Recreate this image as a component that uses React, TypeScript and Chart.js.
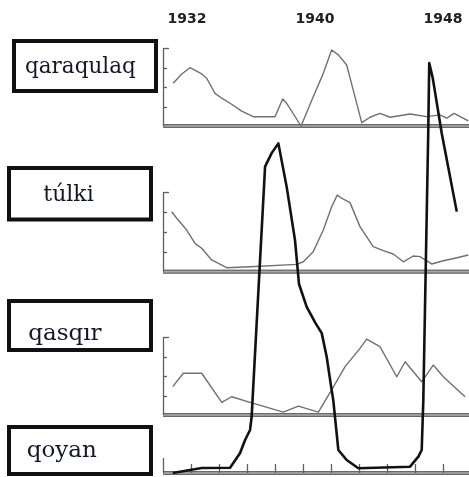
import React, { useEffect, useRef } from 'react';
import { Chart, registerables } from 'chart.js';

Chart.register(...registerables);

// ---------- data ----------
const yearLabels = [1932, 1940, 1948];
const bottomTicks = [1932.25, 1934, 1935.75, 1937.5, 1939.25, 1941, 1942.75, 1944.5, 1946.25, 1948];
const panelNames = ['qaraqulaq', 'túlki', 'qasqır', 'qoyan'];
const panelTicks = [1, 2, 3, 4];

const qaraqulaqYears = [1931.14, 1931.67, 1932.19, 1932.92, 1933.23, 1933.75, 1934.17, 1934.69, 1935.42, 1936.14, 1937.5, 1937.98, 1938.23, 1939.13, 1939.89, 1940.52, 1941.04, 1941.46, 1941.98, 1942.39, 1942.92, 1943.44, 1944.06, 1944.69, 1945.94, 1946.98, 1947.81, 1948.23, 1948.69, 1949.58];
const qaraqulaqValues = [2.2, 2.68, 3.0, 2.68, 2.46, 1.68, 1.43, 1.17, 0.77, 0.48, 0.48, 1.39, 1.17, 0, 1.51, 2.71, 3.91, 3.66, 3.14, 1.85, 0.17, 0.45, 0.65, 0.45, 0.62, 0.48, 0.57, 0.4, 0.65, 0.27];

const tulkiYears = [1931.04, 1931.36, 1931.98, 1932.5, 1932.92, 1933.54, 1934.48, 1935.94, 1938.86, 1939.27, 1939.89, 1940.52, 1941.04, 1941.39, 1941.77, 1942.19, 1942.81, 1943.64, 1944.27, 1944.89, 1945.52, 1946.14, 1946.56, 1947.29, 1948.02, 1948.75, 1949.58];
const tulkiValues = [3.02, 2.69, 2.1, 1.43, 1.18, 0.59, 0.2, 0.25, 0.37, 0.5, 1.01, 2.1, 3.27, 3.86, 3.65, 3.48, 2.27, 1.26, 1.06, 0.89, 0.5, 0.79, 0.76, 0.39, 0.55, 0.68, 0.84];

const qasqirYears = [1931.11, 1931.77, 1932.92, 1934.17, 1934.79, 1935.94, 1938.02, 1938.96, 1940.21, 1941.04, 1941.88, 1942.81, 1943.23, 1944.06, 1945.11, 1945.63, 1946.67, 1947.39, 1948.02, 1949.38];
const qasqirValues = [1.46, 2.15, 2.15, 0.65, 0.94, 0.65, 0.15, 0.46, 0.15, 1.29, 2.49, 3.43, 3.91, 3.52, 1.97, 2.74, 1.71, 2.57, 1.97, 0.94];

const qoyanYears = [1931.11, 1932.19, 1932.92, 1934.69, 1935.31, 1935.63, 1935.94, 1936.04, 1936.88, 1937.29, 1937.71, 1938.23, 1938.75, 1939.0, 1939.48, 1940.04, 1940.42, 1940.73, 1941.04, 1941.14, 1941.46, 1941.98, 1942.71, 1945.94, 1946.46, 1946.67, 1946.77, 1947.08, 1947.14, 1947.36, 1947.92, 1948.86];
const qoyanValues = [0, 0.8, 1.33, 1.41, 5.25, 8.8, 11.47, 15.0, 81.7, 85.3, 87.9, 76.3, 62.1, 50.4, 44.3, 39.9, 37.3, 31.0, 22.1, 19.5, 6.13, 3.47, 1.25, 1.68, 4.35, 6.13, 19.5, 91.5, 109.3, 105.3, 90.6, 69.7];

// ---------- layout ----------
const W = 469;
const H = 477;
const PLOT_LEFT = 163;
const X_MIN = 1930.5;
const X_MAX = 1949.625;
const PANEL_TOP_VALUE = 4;

const panelLayout = [
  { id: 'y1', baseline: 126, top: 48.3 },
  { id: 'y2', baseline: 271.7, top: 192.3 },
  { id: 'y3', baseline: 415, top: 337.3 },
  { id: 'y4', baseline: 473, top: 458 },
];

const boxes = [
  { x0: 12, y0: 39, x1: 158, y1: 93, tx: 25, ty: 72.5, size: 21.5 },
  { x0: 7, y0: 166, x1: 153, y1: 221.5, tx: 43.3, ty: 200.7, size: 22 },
  { x0: 7, y0: 299, x1: 153, y1: 352, tx: 28.3, ty: 340, size: 23 },
  { x0: 7, y0: 425, x1: 153, y1: 476, tx: 26.7, ty: 456.7, size: 23 },
];

function panelRange(baseline: number, top: number) {
  const span = baseline - top;
  const min = (-PANEL_TOP_VALUE * (H - baseline)) / span;
  const max = min + (PANEL_TOP_VALUE * H) / span;
  return { min, max };
}

function pts(xs: number[], ys: number[]) {
  return xs.map((x, i) => ({ x, y: ys[i] }));
}

const framePlugin = {
  id: 'frames',
  beforeDatasetsDraw(chart: any) {
    const ctx = chart.ctx as CanvasRenderingContext2D;
    const { left, right } = chart.chartArea;
    const xs = chart.scales.x;
    ctx.save();
    panelLayout.forEach((p, i) => {
      const s = chart.scales[p.id];
      const y0 = s.getPixelForValue(0);
      const yTop = s.getPixelForValue(PANEL_TOP_VALUE);
      // baseline (double line look)
      ctx.fillStyle = '#a8a8a8';
      ctx.fillRect(left, y0 - 2, right - left, 4);
      ctx.fillStyle = '#6a6a6a';
      ctx.fillRect(left, y0 - 2, right - left, 1.2);
      ctx.fillRect(left, y0 + 0.8, right - left, 1.2);
      // vertical axis
      ctx.strokeStyle = '#5e5e5e';
      ctx.lineWidth = 1.3;
      ctx.beginPath();
      ctx.moveTo(left + 0.5, yTop);
      ctx.lineTo(left + 0.5, y0);
      ctx.stroke();
      if (i < 3) {
        panelTicks.forEach((v) => {
          const ty = Math.round(s.getPixelForValue(v)) + 0.5;
          ctx.beginPath();
          ctx.moveTo(left, ty);
          ctx.lineTo(left + (v === PANEL_TOP_VALUE ? 6 : 4), ty);
          ctx.stroke();
        });
      } else {
        bottomTicks.forEach((t) => {
          const tx = Math.round(xs.getPixelForValue(t)) + 0.5;
          ctx.beginPath();
          ctx.moveTo(tx, y0);
          ctx.lineTo(tx, y0 - 9);
          ctx.stroke();
        });
      }
    });
    ctx.restore();
  },
  afterDraw(chart: any) {
    const ctx = chart.ctx as CanvasRenderingContext2D;
    const xs = chart.scales.x;
    ctx.save();
    // year labels
    ctx.fillStyle = '#1e1e1e';
    ctx.font = 'bold 14px "DejaVu Sans"';
    ctx.textAlign = 'center';
    ctx.textBaseline = 'middle';
    yearLabels.forEach((y) => {
      ctx.fillText(String(y), xs.getPixelForValue(y), 19);
    });
    // label boxes
    boxes.forEach((b, i) => {
      ctx.fillStyle = '#ffffff';
      ctx.fillRect(b.x0, b.y0, b.x1 - b.x0, b.y1 - b.y0);
      ctx.strokeStyle = '#111111';
      ctx.lineWidth = 4;
      ctx.strokeRect(b.x0 + 2, b.y0 + 2, b.x1 - b.x0 - 4, b.y1 - b.y0 - 4);
      ctx.fillStyle = '#16162a';
      ctx.font = `${b.size}px "DejaVu Serif"`;
      ctx.textAlign = 'left';
      ctx.textBaseline = 'alphabetic';
      ctx.fillText(panelNames[i], b.tx, b.ty);
    });
    ctx.restore();
  },
};

export default function App() {
  const canvasRef = useRef<HTMLCanvasElement | null>(null);

  useEffect(() => {
    if (!canvasRef.current) return;
    const scales: any = {
      x: { type: 'linear', min: X_MIN, max: X_MAX, display: false },
    };
    panelLayout.forEach((p) => {
      const r = panelRange(p.baseline, p.top);
      scales[p.id] = { type: 'linear', min: r.min, max: r.max, display: false };
    });
    const thin = { borderColor: '#707070', borderWidth: 1.4, pointRadius: 0, tension: 0, fill: false, order: 1, borderJoinStyle: 'round' };
    const chart = new Chart(canvasRef.current, {
      type: 'line',
      data: {
        datasets: [
          { ...thin, label: panelNames[0], data: pts(qaraqulaqYears, qaraqulaqValues), yAxisID: 'y1' },
          { ...thin, label: panelNames[1], data: pts(tulkiYears, tulkiValues), yAxisID: 'y2' },
          { ...thin, label: panelNames[2], data: pts(qasqirYears, qasqirValues), yAxisID: 'y3' },
          {
            label: panelNames[3],
            data: pts(qoyanYears, qoyanValues),
            yAxisID: 'y4',
            borderColor: '#111111',
            borderWidth: 2.6,
            borderJoinStyle: 'round',
            pointRadius: 0,
            tension: 0,
            fill: false,
            order: 0,
          },
        ],
      } as any,
      options: {
        animation: false,
        responsive: false,
        maintainAspectRatio: false,
        layout: { padding: { left: PLOT_LEFT, right: 0, top: 0, bottom: 0 } },
        plugins: { legend: { display: false }, tooltip: { enabled: false }, title: { display: false } },
        scales,
        events: [],
      } as any,
      plugins: [framePlugin],
    });
    return () => chart.destroy();
  }, []);

  return (
    <div style={{ position: 'fixed', left: 0, top: 0, width: W, height: H, background: '#fff' }}>
      <canvas ref={canvasRef} width={W} height={H} style={{ display: 'block', width: W, height: H }} />
    </div>
  );
}
